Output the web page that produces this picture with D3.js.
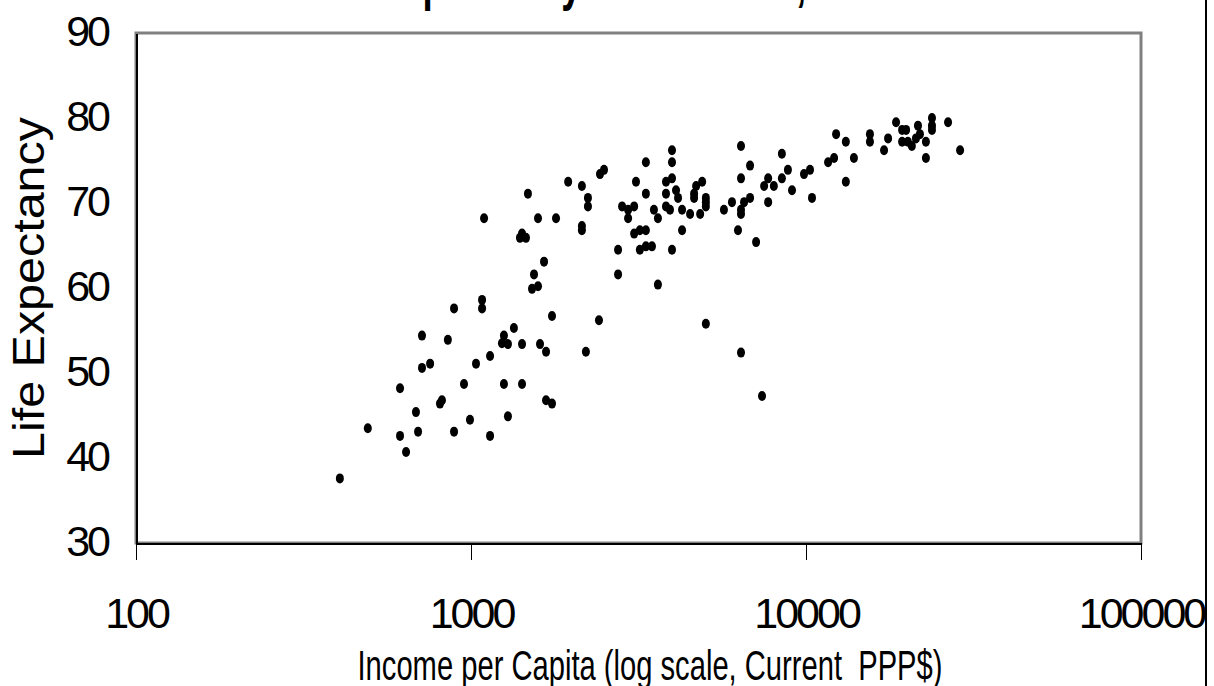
<!DOCTYPE html>
<html lang="en">
<head>
<meta charset="UTF-8">
<style>
body { margin: 0; background: #fff; }
svg text { font-family: "Liberation Sans", Arial, sans-serif; fill: #000; }
.axis path, .axis line { fill: none; stroke: #000; shape-rendering: crispEdges; }
.tick-label { font-size: 43px; letter-spacing: -3px; }
</style>
</head>
<body>
<div id="chart"></div>
<script src="https://cdnjs.cloudflare.com/ajax/libs/d3/7.8.5/d3.min.js"></script>
<script>
// income per capita (PPP$) and life expectancy, one entry per country
const income = [
  406, 492, 614, 640, 695, 890, 1140, 685, 993, 1289,
  819, 808, 1675, 1745, 614, 953, 1254, 1420, 755, 714,
  1035, 1140, 1675, 2203, 714, 853, 1254, 1237, 1289, 1420,
  1607, 1343, 1745, 2410, 1079, 1079, 890, 1585, 1521, 1652,
  1542, 3614, 2748, 2748, 3192, 3327, 3469, 3069, 3192, 3327,
  2143, 2143, 1420, 1400, 1459, 1094, 1585, 1794, 2825, 3069,
  2944, 2944, 3516, 3614, 2234, 2234, 1479, 3327, 1950, 2143,
  3108, 2495, 2427, 3327, 3981, 3981, 6397, 8473, 6808, 8831,
  10280, 9863, 13150, 3981, 3820, 4898, 4699, 4634, 4634, 4093,
  4150, 3820, 5024, 5024, 5024, 6397, 7709, 7499, 8017, 8473,
  9083, 10420, 6808, 6533, 7709, 6012, 5689, 6397, 6397, 3820,
  3927, 4266, 4508, 4831, 4266, 6266, 3981, 7096, 5024, 6397,
  7391, 18570, 23770, 23770, 23770, 26550, 21590, 19360, 19900, 12300,
  15520, 15520, 17580, 13150, 19360, 20140, 20700, 21290, 21880, 22800,
  17100, 28840, 22800, 13900, 11640, 12130
];
const lifeExp = [
  37.6, 43.5, 42.6, 40.7, 43.1, 43.1, 42.6, 45.4, 44.5, 44.9,
  46.8, 46.4, 46.8, 46.4, 48.2, 48.7, 48.7, 48.7, 51.1, 50.6,
  51.1, 52.0, 52.5, 52.5, 54.4, 53.9, 54.4, 53.5, 53.4, 53.4,
  53.4, 55.3, 56.7, 56.2, 58.6, 57.6, 57.6, 60.2, 59.9, 63.1,
  61.6, 60.4, 61.6, 64.5, 64.5, 64.9, 64.9, 66.4, 66.8, 66.8,
  67.3, 66.8, 66.4, 65.9, 65.9, 68.2, 68.2, 68.2, 69.6, 69.6,
  69.2, 68.2, 69.2, 68.2, 70.6, 69.6, 71.1, 71.1, 72.5, 72.0,
  72.5, 73.9, 73.4, 74.8, 76.2, 74.8, 76.7, 75.8, 74.4, 73.9,
  73.9, 73.4, 72.5, 72.9, 72.5, 72.5, 72.0, 71.1, 70.6, 71.5,
  70.6, 71.1, 70.6, 70.1, 69.6, 72.9, 72.9, 72.0, 72.0, 72.9,
  71.5, 70.6, 70.6, 70.1, 70.1, 70.1, 69.2, 69.2, 68.7, 69.6,
  69.2, 69.2, 68.7, 68.7, 66.8, 66.8, 64.5, 65.4, 55.8, 52.4,
  47.3, 79.5, 80.0, 79.1, 78.6, 79.5, 79.1, 78.6, 78.6, 78.1,
  78.1, 77.2, 77.6, 77.2, 77.2, 77.2, 76.7, 77.6, 78.1, 77.2,
  76.2, 76.2, 75.3, 75.3, 74.8, 75.3
];
const xTicks = [100, 1000, 10000, 100000];
const yTicks = [30, 40, 50, 60, 70, 80, 90];

const width = 1214, height = 686;
const margin = {left: 136, right: 1141, top: 33, bottom: 543};

const svg = d3.select("#chart").append("svg")
    .attr("width", width)
    .attr("height", height);

const x = d3.scaleLog().domain([100, 100000]).range([margin.left, margin.right]);
const y = d3.scaleLinear().domain([30, 90]).range([margin.bottom, margin.top]);

// title, cut off at the top edge (only descenders show)
svg.append("text")
    .attr("x", 302)
    .attr("y", -1)
    .attr("textLength", 596)
    .attr("lengthAdjust", "spacingAndGlyphs")
    .style("font-size", "58px")
    .style("font-weight", "bold")
    .text("Life Expectancy and Income, 1999");

// plot frame
svg.append("rect")
    .attr("x", margin.left)
    .attr("y", margin.top)
    .attr("width", margin.right - margin.left)
    .attr("height", margin.bottom - margin.top)
    .attr("fill", "none")
    .attr("stroke", "#808080")
    .attr("stroke-width", 3);

// X axis
const xAxis = svg.append("g")
    .attr("class", "axis")
    .attr("transform", `translate(0,${margin.bottom})`)
    .call(d3.axisBottom(x).tickValues(xTicks).tickSize(17).tickSizeOuter(0).tickFormat(d3.format("d")));
xAxis.select(".domain").attr("stroke-width", 2);
xAxis.selectAll(".tick line").attr("stroke-width", 1.5);
xAxis.selectAll(".tick text")
    .attr("class", "tick-label")
    .attr("y", 85)
    .attr("dy", 0);

// Y axis
const yAxis = svg.append("g")
    .attr("class", "axis")
    .attr("transform", `translate(${margin.left},0)`)
    .call(d3.axisLeft(y).tickValues(yTicks).tickSize(0).tickPadding(28));
yAxis.select(".domain").attr("stroke-width", 2);
yAxis.selectAll(".tick text")
    .attr("class", "tick-label")
    .attr("dy", "0.3em");

// axis titles
svg.append("text")
    .attr("x", 650)
    .attr("y", 680)
    .attr("text-anchor", "middle")
    .attr("textLength", 585)
    .attr("lengthAdjust", "spacingAndGlyphs")
    .style("font-size", "43px")
    .style("white-space", "pre")
    .text("Income per Capita (log scale, Current  PPP$)");

svg.append("text")
    .attr("transform", `translate(44,${(margin.top + margin.bottom) / 2}) rotate(-90)`)
    .attr("text-anchor", "middle")
    .attr("textLength", 342)
    .attr("lengthAdjust", "spacingAndGlyphs")
    .style("font-size", "45px")
    .text("Life Expectancy");

// page frame line at the right
svg.append("line")
    .attr("x1", 1206).attr("x2", 1206)
    .attr("y1", 0).attr("y2", height)
    .attr("stroke", "#000")
    .attr("stroke-width", 2);

// scatter points
svg.selectAll(".dot")
    .data(income)
    .enter().append("ellipse")
    .attr("class", "dot")
    .attr("cx", d => x(d))
    .attr("cy", (d, i) => y(lifeExp[i]))
    .attr("rx", 4)
    .attr("ry", 5)
    .attr("fill", "#000");
</script>
</body>
</html>
